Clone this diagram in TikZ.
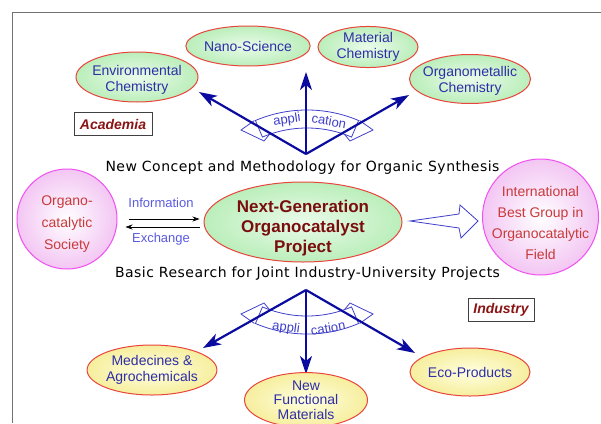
\documentclass[tikz,border=0pt]{standalone}
\usepackage{fontspec}
\setmainfont{Liberation Sans}
\newfontfamily\capfont[LetterSpace=3.5]{DejaVu Sans}
\usetikzlibrary{shapes.geometric,arrows.meta}
\definecolor{ellborder}{HTML}{E8453C}
\definecolor{greenin}{HTML}{EAFBEA}
\definecolor{greenout}{HTML}{BBEEBB}
\definecolor{yellin}{HTML}{FFFFE0}
\definecolor{yellout}{HTML}{F6EE9E}
\definecolor{bluetext}{HTML}{2E2EA8}
\definecolor{darkred}{HTML}{7A0E0E}
\definecolor{magborder}{HTML}{F050F0}
\definecolor{pinkout}{HTML}{F3C6F3}
\definecolor{redtext}{HTML}{C83A3A}
\definecolor{arrowblue}{HTML}{0B0BA0}
\definecolor{bandblue}{HTML}{4040CC}
\definecolor{lightblue}{HTML}{5A5AE0}
\definecolor{boxred}{HTML}{8A1414}
\tikzset{
  topell/.style={ellipse, draw=ellborder, line width=1pt, inner color=greenin, outer color=greenout,
    inner sep=0pt, align=center, text=bluetext, font=\fontsize{14}{16}\selectfont},
  botell/.style={topell, inner color=yellin, outer color=yellout},
  bigcirc/.style={circle, draw=magborder, line width=1pt, inner color=white, outer color=pinkout,
    inner sep=0pt},
  circtext/.style={align=center, inner sep=0pt, text=redtext},
  bigarrow/.style={draw=arrowblue, line width=2.2pt, -{Stealth[length=18pt,width=12pt,inset=5pt]}},
  infoarrow/.style={draw=black, line width=0.6pt, -{Stealth[length=7pt,width=5pt]}},
  appltext/.style={text=bandblue, inner sep=0pt, font=\fontsize{13}{15}\selectfont},
  infotext/.style={text=lightblue, inner sep=0pt, font=\fontsize{13}{15}\selectfont},
  capt/.style={inner sep=0pt, font=\capfont\fontsize{14}{16}\selectfont},
  tagbox/.style={draw=black!75, line width=0.7pt, fill=white, minimum width=#1, minimum height=23pt,
    inner sep=0pt, text=boxred, font=\bfseries\itshape\fontsize{14}{16}\selectfont},
  band/.style={draw=bandblue, line width=0.8pt, fill=white},
  hollow/.style={draw=bandblue, line width=0.8pt, fill=white}
}
\begin{document}
\begin{tikzpicture}[x=1pt,y=-1pt]
\useasboundingbox (0,0) rectangle (601,423);
% frame
\draw[black!55, line width=1pt] (12,423) -- (12,12) -- (601,12);

% application bands (top), and mirrored (bottom)
\foreach \s in {0,1}{
\begin{scope}[shift={(0,444*\s)}, yscale={1-2*\s}]
  \filldraw[band] (254.4,120.5) -- (241,130) -- (264,141) -- (270,133.8);
  \filldraw[band] (359.6,120.5) -- (373,130) -- (350,141) -- (344,133.8);
  \filldraw[band] plot[domain=-23:23,samples=40] ({307+132*sin(\x)},{242-132*cos(\x)})
     -- plot[domain=23:-23,samples=40] ({307+114*sin(\x)},{242-114*cos(\x)}) -- cycle;
\end{scope}
}
\node[appltext, rotate=8] (ap1) at (287,120) {appli};
\node[appltext, rotate=-10] (ca1) at (329,121) {cation};
\node[appltext, rotate=-8] (ap2) at (286,328) {appli};
\node[appltext, rotate=10] (ca2) at (328,328) {cation};

% origins and tips
\coordinate (otop) at (306,154);
\coordinate (obot) at (306,290);
\coordinate (t1) at (199,92);
\coordinate (t2) at (306,72);
\coordinate (t3) at (409,95);
\coordinate (b1) at (203,348);
\coordinate (b2) at (306,374);
\coordinate (b3) at (415,353);
\draw[bigarrow] (otop) -- (t1);
\draw[bigarrow] (otop) -- (t2);
\draw[bigarrow] (otop) -- (t3);
\draw[bigarrow] (obot) -- (b1);
\draw[bigarrow] (obot) -- (b2);
\draw[bigarrow] (obot) -- (b3);

% top ellipses
\node[topell, minimum width=98pt, minimum height=40pt] (nano) at (248,46) {Nano-Science};
\node[topell, minimum width=122pt, minimum height=50pt] (env) at (137,77) {};
\node[circtext, text=bluetext, font=\fontsize{14}{16}\selectfont] (envt) at (137,80) {Environmental\\Chemistry};
\node[topell, minimum width=100pt, minimum height=40pt] (mat) at (368,47) {Material\\Chemistry};
\node[topell, minimum width=121pt, minimum height=49pt] (orgm) at (470,79) {};
\node[circtext, text=bluetext, font=\fontsize{14}{16}\selectfont] (orgmt) at (470,81) {Organometallic\\Chemistry};

\node[tagbox=78pt] (acad) at (113,124) {Academia};
\node[tagbox=66pt] (ind) at (501,310) {Industry};

% captions
\node[capt] (ncm) at (302.5,168) {New Concept and Methodology for Organic Synthesis};
\node[capt] (brj) at (307.5,274) {Basic Research for Joint Industry-University Projects};

% center row
\node[bigcirc, minimum size=100pt] (soc) at (67,219) {};
\node[circtext, font=\fontsize{14}{22}\selectfont] (soct) at (67,224) {Organo-\\catalytic\\Society};
\node[topell, minimum width=198pt, minimum height=80pt] (ng) at (303,222) {};
\node[circtext, text=darkred, font=\bfseries\fontsize{17}{20}\selectfont] (ngt) at (303,228) {Next-Generation\\Organocatalyst\\Project};
\node[bigcirc, minimum size=116pt] (intl) at (540.5,217) {};
\node[circtext, font=\fontsize{14}{21}\selectfont] (intlt) at (540.5,223) {International\\Best Group in\\Organocatalytic\\Field};

\draw[infoarrow] ([xshift=11pt]soc.east) -- ([xshift=-4pt]soc.east -| ng.west);
\draw[infoarrow] ([xshift=-4pt,yshift=-8pt]soc.east -| ng.west) -- ([xshift=8pt,yshift=-8pt]soc.east);
\node[infotext] (info) at (161,203) {Information};
\node[infotext] (exch) at (161,239) {Exchange};

% hollow arrow
\filldraw[hollow] (410,221) -- (459,214) -- (460,205) -- (478,221) -- (461,238) -- (459,228) -- cycle;

% bottom ellipses
\node[botell, minimum width=122pt, minimum height=50pt] (med) at (152,370) {Medecines \&\\Agrochemicals};
\node[botell, minimum width=123pt, minimum height=46pt, font=\fontsize{14}{14.5}\selectfont] (nfm) at (306,400) {New\\Functional\\Materials};
\node[botell, minimum width=120pt, minimum height=48pt] (eco) at (470,372) {Eco-Products};
\end{tikzpicture}
\end{document}
